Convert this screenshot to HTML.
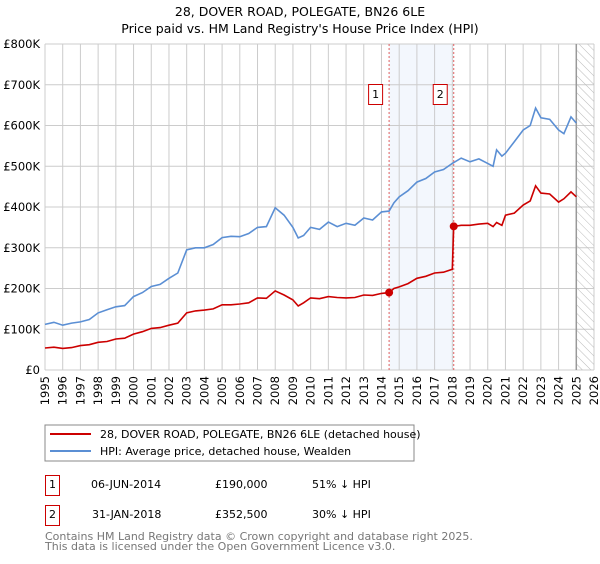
<!DOCTYPE html>
<html><head><meta charset="utf-8"><style>
body{margin:0;background:#fff;font-family:"DejaVu Sans","Liberation Sans",sans-serif}
svg text{font-family:"DejaVu Sans","Liberation Sans",sans-serif}
</style></head><body>
<svg id="c" width="600" height="560" viewBox="0 0 600 560" xmlns="http://www.w3.org/2000/svg">
<defs><pattern id="hatch" width="6" height="6" patternUnits="userSpaceOnUse" patternTransform="rotate(-45)"><line x1="0" y1="0" x2="0" y2="6" stroke="#bbb" stroke-width="1"/></pattern></defs>
<text x="300" y="16" text-anchor="middle" font-size="12.5">28, DOVER ROAD, POLEGATE, BN26 6LE</text>
<text x="300" y="33" text-anchor="middle" font-size="12.5">Price paid vs. HM Land Registry's House Price Index (HPI)</text>
<g id="plot"></g>
<rect x="45" y="425" width="369" height="36" fill="none" stroke="#888"/>
<line x1="50" y1="434" x2="91" y2="434" stroke="#cc0000" stroke-width="2"/>
<text x="100" y="438" font-size="11">28, DOVER ROAD, POLEGATE, BN26 6LE (detached house)</text>
<line x1="50" y1="451" x2="91" y2="451" stroke="#5b8fd4" stroke-width="2"/>
<text x="100" y="455" font-size="11">HPI: Average price, detached house, Wealden</text>
<g>
<rect x="45.5" y="475.5" width="14" height="20" fill="none" stroke="#cc0000"/>
<text x="52.5" y="488" font-size="11" text-anchor="middle">1</text>
<text x="91" y="488" font-size="11">06-JUN-2014</text>
<text x="215" y="488" font-size="11">£190,000</text>
<text x="312" y="488" font-size="11">51% ↓ HPI</text></g>
<g>
<rect x="45.5" y="505.5" width="14" height="20" fill="none" stroke="#cc0000"/>
<text x="52.5" y="518" font-size="11" text-anchor="middle">2</text>
<text x="92" y="518" font-size="11">31-JAN-2018</text>
<text x="215" y="518" font-size="11">£352,500</text>
<text x="312" y="518" font-size="11">30% ↓ HPI</text></g>
<text x="45" y="540" font-size="11" fill="#777">Contains HM Land Registry data © Crown copyright and database right 2025.</text>
<text x="45" y="550" font-size="11" fill="#777">This data is licensed under the Open Government Licence v3.0.</text>
</svg>
<script>
const hpiYears=[1995,1995.5,1996,1996.5,1997,1997.5,1998,1998.5,1999,1999.5,2000,2000.5,2001,2001.5,2002,2002.5,2003,2003.5,2004,2004.5,2005,2005.5,2006,2006.5,2007,2007.5,2008,2008.5,2009,2009.3,2009.6,2010,2010.5,2011,2011.5,2012,2012.5,2013,2013.5,2014,2014.43,2014.7,2015,2015.5,2016,2016.5,2017,2017.5,2018,2018.5,2019,2019.5,2020,2020.3,2020.5,2020.8,2021,2021.5,2022,2022.4,2022.7,2023,2023.5,2024,2024.3,2024.7,2025];
const hpiValues=[112,117,110,115,118,124,140,148,155,158,180,190,205,210,225,238,295,300,300,308,325,328,327,335,350,352,398,380,350,324,330,350,345,363,352,360,355,373,368,388,390,410,425,440,461,470,486,492,507,520,511,518,507,500,540,525,532,560,589,600,643,619,615,589,580,621,606];
const priceYears=[1995,1995.5,1996,1996.5,1997,1997.5,1998,1998.5,1999,1999.5,2000,2000.5,2001,2001.5,2002,2002.5,2003,2003.5,2004,2004.5,2005,2005.5,2006,2006.5,2007,2007.5,2008,2008.5,2009,2009.3,2009.6,2010,2010.5,2011,2011.5,2012,2012.5,2013,2013.5,2014,2014.43,2014.7,2015,2015.5,2016,2016.5,2017,2017.5,2018.0,2018.08,2018.5,2019,2019.5,2020,2020.3,2020.5,2020.8,2021,2021.5,2022,2022.4,2022.7,2023,2023.5,2024,2024.3,2024.7,2025];
const priceValues=[54,56,53,55,60,62,68,70,76,78,88,94,102,104,110,115,140,145,147,150,160,160,162,165,177,176,194,184,172,157,165,177,175,180,178,177,178,184,183,188,190,200,204,212,225,230,238,240,247,352.5,355,355,358,360,352,362,355,380,385,405,415,452,434,432,412,420,437,425];
const sales=[[2014.43,190],[2018.08,352.5]];
const yTicks=[0,100,200,300,400,500,600,700,800];
const yLabels=["£0","£100K","£200K","£300K","£400K","£500K","£600K","£700K","£800K"];
const xTicks=[1995,1996,1997,1998,1999,2000,2001,2002,2003,2004,2005,2006,2007,2008,2009,2010,2011,2012,2013,2014,2015,2016,2017,2018,2019,2020,2021,2022,2023,2024,2025,2026];
const NS="http://www.w3.org/2000/svg";
const X0=45,X1=594,Y0=370,Y1=44;
const xs=y=>X0+(y-1995)/(2026-1995)*(X1-X0);
const ys=v=>Y0-v/800*(Y0-Y1);
const g=document.getElementById('plot');
function mk(t,a){const e=document.createElementNS(NS,t);for(const k in a)e.setAttribute(k,a[k]);g.appendChild(e);return e;}
let e=mk('rect',{x:xs(2014.43),y:Y1,width:xs(2018.08)-xs(2014.43),height:Y0-Y1,fill:'#eef3fc',opacity:0.7});


yTicks.forEach((t,i)=>{
 let l=mk('line',{x1:X0,x2:X1,y1:ys(t),y2:ys(t),stroke:'#ccc'});
 
 
 let tx=mk('text',{x:40,y:ys(t)+4,'text-anchor':'end','font-size':11.5});
 tx.textContent=yLabels[i];
 
 
});
xTicks.forEach(t=>{
 let l=mk('line',{x1:xs(t),x2:xs(t),y1:Y1,y2:Y0,stroke:'#ccc'});
 
 
 let tx=mk('text',{x:0,y:0,'font-size':11.5,'text-anchor':'end',transform:`translate(${xs(t)+4},${Y0+6}) rotate(-90)`});
 tx.textContent=t;
 
 
});
e=mk('rect',{x:xs(2025),y:Y1,width:X1-xs(2025),height:Y0-Y1,fill:'url(#hatch)'});


e=mk('line',{x1:xs(2025),x2:xs(2025),y1:Y1,y2:Y0,stroke:'#999','stroke-width':1.5});


sales.forEach((s,i)=>{
 let l=mk('line',{x1:xs(s[0]),x2:xs(s[0]),y1:Y1,y2:Y0,stroke:'#e06060','stroke-dasharray':'2,2'});
 
 
 let r=mk('rect',{x:xs(s[0])-21+0.5,y:84.5,width:14,height:20,fill:'#fff',stroke:'#cc0000'});
 
 
 let tx=mk('text',{x:xs(s[0])-13.5,y:98,'font-size':11,'text-anchor':'middle'});
 tx.textContent=String(i+1);
 
 
});
const path=(xa,va)=>xa.map((y,i)=>(i?'L':'M')+xs(y).toFixed(1)+','+ys(va[i]).toFixed(1)).join('');
e=mk('path',{d:path(hpiYears,hpiValues),fill:'none',stroke:'#5b8fd4','stroke-width':1.6});


e=mk('path',{d:path(priceYears,priceValues),fill:'none',stroke:'#cc0000','stroke-width':1.6});


sales.forEach(s=>{
 let c=mk('circle',{cx:xs(s[0]),cy:ys(s[1]),r:4,fill:'#cc0000'});
 
 
});
</script>
</body></html>
